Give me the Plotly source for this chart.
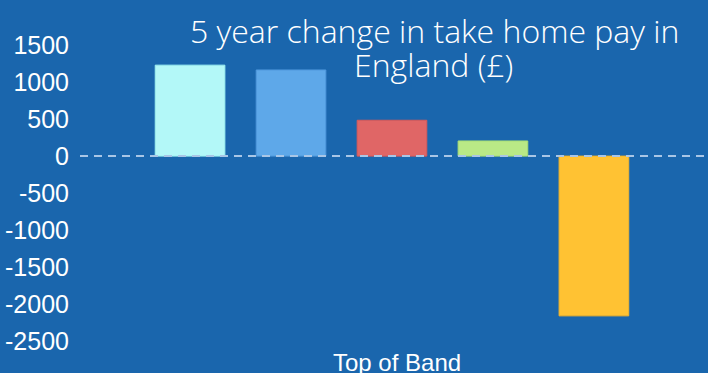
import plotly.graph_objects as go

categories = ["Band A", "Band B", "Band C", "Band D", "Band E"]
values = [1230, 1165, 485, 205, -2160]
colors = ["#b3f8f8", "#5ea8e9", "#e06666", "#b9e986", "#ffc233"]
borders = ["#9ef0f0", "#4f98dc", "#d85a5a", "#a8de76", "#f5b52a"]
tick_vals = [1500, 1000, 500, 0, -500, -1000, -1500, -2000, -2500]
title_lines = ["5 year change in take home pay in", "England (£)"]

BG = "#1a66ad"

fig = go.Figure(go.Bar(
    x=categories, y=values,
    marker=dict(color=colors, line=dict(color=borders, width=1)),
    width=0.69,
))

title_font = dict(family="Open Sans", size=32, color="white", weight=300)

fig.update_layout(
    width=708, height=373,
    paper_bgcolor=BG, plot_bgcolor=BG,
    margin=dict(l=80, r=0, t=23, b=32),
    showlegend=False,
    font=dict(family="Liberation Sans, Arial", color="white"),
    xaxis=dict(showticklabels=False, showgrid=False, zeroline=False,
               range=[-1.09, 5.13], fixedrange=True),
    yaxis=dict(range=[-2500, 1800], tickvals=tick_vals,
               ticktext=[str(v) for v in tick_vals],
               tickfont=dict(size=25, color="white"),
               showgrid=False, zeroline=False, ticklabelstandoff=10),
    shapes=[dict(type="line", xref="paper", yref="y", x0=0, x1=1, y0=0, y1=0,
                 line=dict(color="#a9c6e6", width=2, dash="8px,6px"), layer="above")],
    annotations=[
        dict(text=title_lines[0], xref="paper", yref="paper", x=0.565, y=0.976,
             xanchor="center", yanchor="middle", showarrow=False, font=title_font),
        dict(text=title_lines[1], xref="paper", yref="paper", x=0.563, y=0.868,
             xanchor="center", yanchor="middle", showarrow=False, font=title_font),
        dict(text="Top of Band", xref="paper", yref="paper", x=0.505, y=0,
             xanchor="center", yanchor="top", yshift=-6, showarrow=False,
             font=dict(size=24, color="white")),
    ],
)

fig.write_html("out.html", config={"displayModeBar": False},
               post_script="document.body.style.margin='0';document.body.style.overflow='hidden';")
